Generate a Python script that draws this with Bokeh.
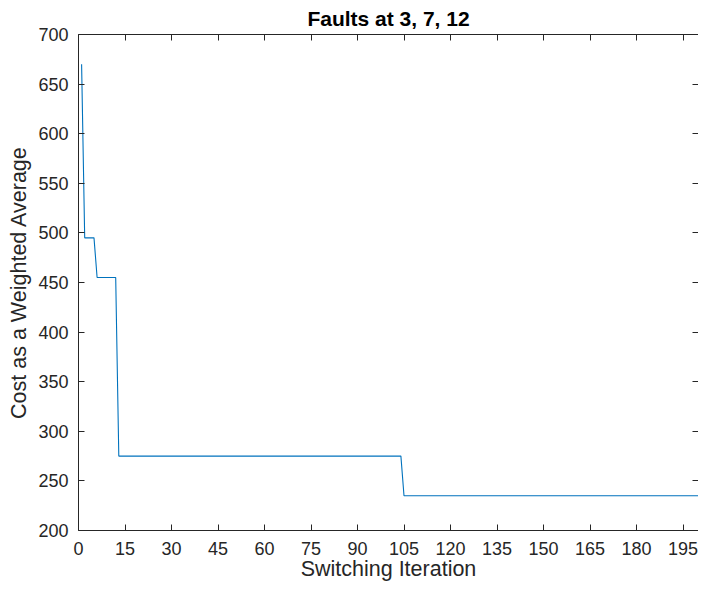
from bokeh.plotting import figure
from bokeh.models import LinearAxis, FixedTicker, Range1d
from bokeh.embed import file_html
from bokeh.resources import INLINE

# Data: corner points of the cost curve (iteration, cost)
iterations = [1, 2, 5, 6, 12, 13, 104, 105, 200]
costs = [670, 495, 495, 455, 455, 275, 275, 235, 235]

x_ticks = [0, 15, 30, 45, 60, 75, 90, 105, 120, 135, 150, 165, 180, 195]
y_ticks = [200, 250, 300, 350, 400, 450, 500, 550, 600, 650, 700]

title_text = "Faults at 3, 7, 12"
x_label = "Switching Iteration"
y_label = "Cost as a Weighted Average"

FONT = "Liberation Sans"
AX = "#262626"

p = figure(width=698, height=583, output_backend="svg", toolbar_location=None,
           x_range=Range1d(0, 200), y_range=Range1d(200, 700),
           x_axis_location=None, y_axis_location=None)
p.background_fill_color = "white"
p.border_fill_color = "white"
p.outline_line_color = None
p.xgrid.visible = False
p.ygrid.visible = False
p.min_border_left = 78
p.min_border_right = 0
p.min_border_top = 0
p.min_border_bottom = 0

p.title.text = title_text
p.title.text_font = FONT
p.title.text_font_size = "21px"
p.title.text_font_style = "bold"
p.title.text_color = "black"
p.title.align = "center"
p.title.offset = 7
p.title.standoff = 9


def style(ax, labels=True):
    ax.axis_line_color = AX
    ax.axis_line_width = 1
    ax.major_tick_line_color = AX
    ax.major_tick_in = 6
    ax.major_tick_out = 0
    ax.minor_tick_line_color = None
    ax.major_label_text_font = FONT
    if labels:
        ax.major_label_text_color = AX
        ax.major_label_text_font_size = "18px"
    else:
        ax.major_label_text_color = None
        ax.major_label_text_font_size = "0px"
        ax.major_label_standoff = 0
        ax.axis_label_standoff = 0


xb = LinearAxis(ticker=FixedTicker(ticks=x_ticks), axis_label=x_label)
style(xb)
xb.major_label_standoff = 11
xb.axis_label_text_font = FONT
xb.axis_label_text_font_size = "21.5px"
xb.axis_label_text_font_style = "normal"
xb.axis_label_text_color = AX
xb.axis_label_standoff = -1
p.add_layout(xb, "below")

yl = LinearAxis(ticker=FixedTicker(ticks=y_ticks), axis_label=y_label)
style(yl)
yl.major_label_standoff = 10
yl.axis_label_text_font = FONT
yl.axis_label_text_font_size = "21.5px"
yl.axis_label_text_font_style = "normal"
yl.axis_label_text_color = AX
yl.axis_label_standoff = 4
p.add_layout(yl, "left")

xt = LinearAxis(ticker=FixedTicker(ticks=x_ticks))
style(xt, labels=False)
p.add_layout(xt, "above")

yr = LinearAxis(ticker=FixedTicker(ticks=y_ticks))
style(yr, labels=False)
p.add_layout(yr, "right")

p.line(iterations, costs, line_color="#0072BD", line_width=1.1)

open("out.html", "w").write(file_html(p, INLINE))
